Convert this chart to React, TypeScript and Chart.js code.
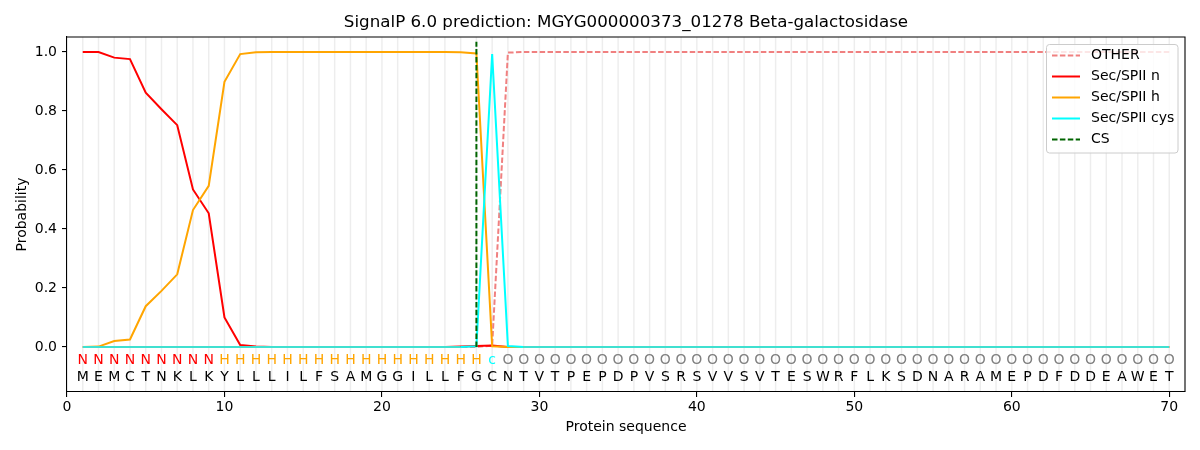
import React, { useEffect, useRef } from "react";
import { Chart, registerables } from "chart.js";

Chart.register(...registerables);

// residue positions 1..70
const positions = [
  1, 2, 3, 4, 5, 6, 7, 8, 9, 10,
  11, 12, 13, 14, 15, 16, 17, 18, 19, 20,
  21, 22, 23, 24, 25, 26, 27, 28, 29, 30,
  31, 32, 33, 34, 35, 36, 37, 38, 39, 40,
  41, 42, 43, 44, 45, 46, 47, 48, 49, 50,
  51, 52, 53, 54, 55, 56, 57, 58, 59, 60,
  61, 62, 63, 64, 65, 66, 67, 68, 69, 70,
];

const sequence = "MEMCTNKLKYLLLILFSAMGGILLFGCNTVTPEPDPVSRSVVSVTESWRFLKSDNARAMEPDFDDEAWET".split("");
const regions = ("NNNNNNNNN" + "HHHHHHHHHHHHHHHHH" + "c" + "OOOOOOOOOO" + "OOOOOOOOOO" + "OOOOOOOOOO" + "OOOOOOOOOO" + "OOO").split("");

const otherProb = [
  0, 0, 0, 0, 0, 0, 0, 0, 0, 0,
  0, 0, 0, 0, 0, 0, 0, 0, 0, 0,
  0, 0, 0, 0, 0, 0, 0.004, 0.998, 1, 1,
  1, 1, 1, 1, 1, 1, 1, 1, 1, 1,
  1, 1, 1, 1, 1, 1, 1, 1, 1, 1,
  1, 1, 1, 1, 1, 1, 1, 1, 1, 1,
  1, 1, 1, 1, 1, 1, 1, 1, 1, 1,
];

const nProb = [
  1.0, 1.0, 0.981, 0.976, 0.862, 0.806, 0.752, 0.534, 0.453, 0.1,
  0.006, 0.001, 0, 0, 0, 0, 0, 0, 0, 0,
  0, 0, 0, 0, 0.001, 0.003, 0.005, 0, 0, 0,
  0, 0, 0, 0, 0, 0, 0, 0, 0, 0,
  0, 0, 0, 0, 0, 0, 0, 0, 0, 0,
  0, 0, 0, 0, 0, 0, 0, 0, 0, 0,
  0, 0, 0, 0, 0, 0, 0, 0, 0, 0,
];

const hProb = [
  0, 0.001, 0.02, 0.025, 0.138, 0.19, 0.246, 0.464, 0.546, 0.899,
  0.993, 0.999, 1, 1, 1, 1, 1, 1, 1, 1,
  1, 1, 1, 1, 0.999, 0.995, 0.002, 0, 0, 0,
  0, 0, 0, 0, 0, 0, 0, 0, 0, 0,
  0, 0, 0, 0, 0, 0, 0, 0, 0, 0,
  0, 0, 0, 0, 0, 0, 0, 0, 0, 0,
  0, 0, 0, 0, 0, 0, 0, 0, 0, 0,
];

const cysProb = [
  0, 0, 0, 0, 0, 0, 0, 0, 0, 0,
  0, 0, 0, 0, 0, 0, 0, 0, 0, 0,
  0, 0, 0, 0, 0, 0.002, 0.993, 0.003, 0, 0,
  0, 0, 0, 0, 0, 0, 0, 0, 0, 0,
  0, 0, 0, 0, 0, 0, 0, 0, 0, 0,
  0, 0, 0, 0, 0, 0, 0, 0, 0, 0,
  0, 0, 0, 0, 0, 0, 0, 0, 0, 0,
];

const csPosition = 26;
const csTop = 1.035;

const xTicks = [0, 10, 20, 30, 40, 50, 60, 70];
const yTicks = [0, 0.2, 0.4, 0.6, 0.8, 1.0];

const regionColors: Record<string, string> = { N: "#ff0000", H: "#ffa500", c: "#00ffff", O: "#808080" };

const FONT = "DejaVu Sans";

const legendItems = [
  { label: "OTHER", color: "#f08080", dash: [5.5, 2.4] },
  { label: "Sec/SPII n", color: "#ff0000", dash: [] },
  { label: "Sec/SPII h", color: "#ffa500", dash: [] },
  { label: "Sec/SPII cys", color: "#00ffff", dash: [] },
  { label: "CS", color: "#006400", dash: [5.5, 2.4] },
];

const toPoints = (vals: number[]) => positions.map((p, i) => ({ x: p, y: vals[i] }));

const decorPlugin = {
  id: "decor",
  beforeDatasetsDraw(chart: any) {
    const { ctx, chartArea, scales } = chart;
    ctx.save();
    ctx.strokeStyle = "rgba(0,0,0,0.07)";
    ctx.lineWidth = 1.5;
    positions.forEach((p) => {
      const x = scales.x.getPixelForValue(p);
      ctx.beginPath();
      ctx.moveTo(x, chartArea.top);
      ctx.lineTo(x, chartArea.bottom);
      ctx.stroke();
    });
    ctx.restore();
  },
  afterDatasetsDraw(chart: any) {
    const { ctx, scales } = chart;
    ctx.save();
    ctx.font = `14px "${FONT}"`;
    ctx.textAlign = "center";
    ctx.textBaseline = "middle";
    const yReg = scales.y.getPixelForValue(-0.047);
    const ySeq = scales.y.getPixelForValue(-0.102);
    positions.forEach((p, i) => {
      const x = scales.x.getPixelForValue(p);
      ctx.fillStyle = regionColors[regions[i]];
      ctx.fillText(regions[i], x, yReg);
      ctx.fillStyle = "#000";
      ctx.fillText(sequence[i], x, ySeq);
    });
    ctx.restore();
  },
  afterDraw(chart: any) {
    const { ctx, chartArea } = chart;
    ctx.save();
    // top/right spines
    ctx.strokeStyle = "#000";
    ctx.lineWidth = 1.1;
    ctx.beginPath();
    ctx.moveTo(chartArea.left, chartArea.top);
    ctx.lineTo(chartArea.right, chartArea.top);
    ctx.lineTo(chartArea.right, chartArea.bottom);
    ctx.stroke();

    // title + axis titles
    ctx.fillStyle = "#000";
    ctx.textAlign = "center";
    ctx.textBaseline = "middle";
    ctx.font = `16.7px "${FONT}"`;
    const cx = (chartArea.left + chartArea.right) / 2;
    ctx.fillText("SignalP 6.0 prediction: MGYG000000373_01278 Beta-galactosidase", cx, 23);
    ctx.font = `14px "${FONT}"`;
    ctx.fillText("Protein sequence", cx, 427);
    ctx.save();
    ctx.translate(22, (chartArea.top + chartArea.bottom) / 2);
    ctx.rotate(-Math.PI / 2);
    ctx.fillText("Probability", 0, 0);
    ctx.restore();

    // legend
    const bx = 1046.5, by = 44.5, bw = 131.5, bh = 108.5, r = 3;
    ctx.fillStyle = "rgba(255,255,255,0.8)";
    ctx.strokeStyle = "#cccccc";
    ctx.lineWidth = 1;
    ctx.beginPath();
    ctx.roundRect(bx, by, bw, bh, r);
    ctx.fill();
    ctx.stroke();
    ctx.textAlign = "left";
    legendItems.forEach((item, i) => {
      const y = 55.5 + i * 21;
      ctx.strokeStyle = item.color;
      ctx.lineWidth = 2;
      ctx.setLineDash(item.dash);
      ctx.beginPath();
      ctx.moveTo(1052, y);
      ctx.lineTo(1080, y);
      ctx.stroke();
      ctx.setLineDash([]);
      ctx.fillStyle = "#000";
      ctx.fillText(item.label, 1091, y);
    });
    ctx.restore();
  },
};

const App = () => {
  const canvasRef = useRef<HTMLCanvasElement>(null);

  useEffect(() => {
    document.body.style.margin = "0";
    if (!canvasRef.current) return;
    const chart = new Chart(canvasRef.current, {
      type: "line",
      data: {
        datasets: [
          {
            label: "OTHER",
            data: toPoints(otherProb),
            borderColor: "#f08080",
            borderDash: [5.5, 2.4],
            borderWidth: 2,
            pointRadius: 0,
            order: 5,
          },
          {
            label: "Sec/SPII n",
            data: toPoints(nProb),
            borderColor: "#ff0000",
            borderWidth: 2,
            pointRadius: 0,
            order: 4,
          },
          {
            label: "Sec/SPII h",
            data: toPoints(hProb),
            borderColor: "#ffa500",
            borderWidth: 2,
            pointRadius: 0,
            order: 3,
          },
          {
            label: "Sec/SPII cys",
            data: toPoints(cysProb),
            borderColor: "#00ffff",
            borderWidth: 2,
            pointRadius: 0,
            order: 2,
            segment: {
              borderColor: (c: any) =>
                c.p0.parsed.y === 0 && c.p1.parsed.y === 0 ? "rgb(64,224,208)" : "#00ffff",
            },
          },
          {
            label: "CS",
            data: [
              { x: csPosition, y: 0 },
              { x: csPosition, y: csTop },
            ],
            borderColor: "#006400",
            borderDash: [5.5, 2.4],
            borderWidth: 2,
            pointRadius: 0,
            order: 1,
          },
        ],
      },
      options: {
        responsive: false,
        animation: false,
        events: [],
        layout: { padding: { left: 0, right: 15, top: 37, bottom: 0 } },
        plugins: {
          legend: { display: false },
          title: { display: false },
          tooltip: { enabled: false },
        },
        scales: {
          x: {
            type: "linear",
            min: 0,
            max: 71,
            afterFit: (s: any) => {
              s.height = 58;
            },
            afterBuildTicks: (s: any) => {
              s.ticks = xTicks.map((v) => ({ value: v }));
            },
            ticks: {
              font: { family: FONT, size: 14 },
              color: "#000",
              padding: 2,
              maxRotation: 0,
              callback: (v: any) => String(v),
            },
            grid: {
              drawOnChartArea: false,
              drawTicks: true,
              tickLength: 5,
              color: "#000",
              lineWidth: 1.1,
            },
            border: { display: true, color: "#000", width: 1.1 },
          },
          y: {
            type: "linear",
            min: -0.153,
            max: 1.051,
            afterFit: (s: any) => {
              s.width = 67;
            },
            afterBuildTicks: (s: any) => {
              s.ticks = yTicks.map((v) => ({ value: v }));
            },
            ticks: {
              font: { family: FONT, size: 14 },
              color: "#000",
              padding: 5,
              callback: (v: any) => Number(v).toFixed(1),
            },
            grid: {
              drawOnChartArea: false,
              drawTicks: true,
              tickLength: 5,
              color: "#000",
              lineWidth: 1.1,
            },
            border: { display: true, color: "#000", width: 1.1 },
          },
        },
      },
      plugins: [decorPlugin],
    });
    return () => {
      chart.destroy();
    };
  }, []);

  return (
    <div style={{ width: 1200, height: 450 }}>
      <canvas ref={canvasRef} width={1200} height={450}></canvas>
    </div>
  );
};

export default App;
